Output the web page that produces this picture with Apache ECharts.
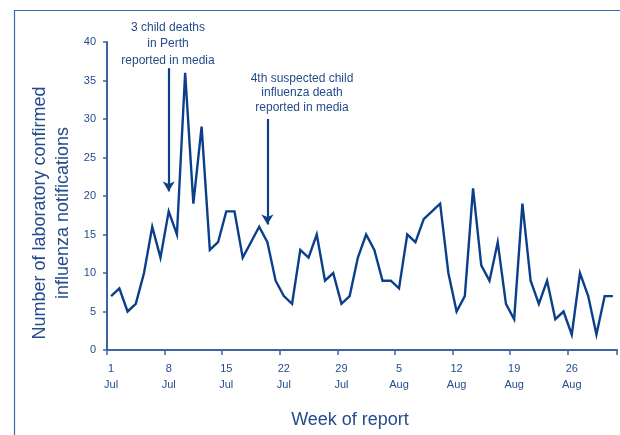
<!DOCTYPE html>
<html><head><meta charset="utf-8">
<script src="https://cdn.jsdelivr.net/npm/echarts@6/dist/echarts.min.js"></script>
<style>html,body{margin:0;padding:0;background:#fff}#c{width:620px;height:435px}</style>
</head><body><div id="c"></div>
<script>
// Daily categories 1 Jul .. 31 Aug
const months = ['Jul', 'Aug'];
const monthDays = [31, 31];
const categories = [];
months.forEach((m, k) => { for (let d = 1; d <= monthDays[k]; d++) categories.push(d + ' ' + m); });

// Number of laboratory confirmed influenza notifications per day
const notifications = [
  7, 8, 5, 6, 10, 16, 12, 18, 15, 36, 19, 29, 13, 14, 18, 18,
  12, 14, 16, 14, 9, 7, 6, 13, 12, 15, 9, 10, 6, 7,
  12, 15, 13, 9, 9, 8, 15, 14, 17, 18, 19, 10, 5, 7, 21, 11,
  9, 14, 6, 4, 19, 9, 6, 9, 4, 5, 2, 10, 7, 2, 7, 7
];

const yTicks = [0, 5, 10, 15, 20, 25, 30, 35, 40];
const annotations = [
  { text: '3 child deaths\nin Perth\nreported in media', at: '8 Jul', from: 36.6, to: 20.6 },
  { text: '4th suspected child\ninfluenza death\nreported in media', at: '20 Jul', from: 30, to: 16.3 }
];

const navy = '#0b3f8a';
const axisCol = '#3b64a0';
const textCol = '#244c8a';
const font = 'Liberation Sans, Arial, sans-serif';

const chart = echarts.init(document.getElementById('c'), null, { renderer: 'canvas' });
chart.setOption({
  animation: false,
  grid: { left: 107, right: 3, top: 42, bottom: 85, containLabel: false },
  xAxis: {
    type: 'category',
    data: categories,
    boundaryGap: true,
    axisLine: { lineStyle: { color: axisCol, width: 2 } },
    axisTick: { show: true, interval: 6, length: 5, lineStyle: { color: axisCol, width: 1.5 } },
    axisLabel: {
      interval: 6, color: textCol, fontFamily: font, fontSize: 11, lineHeight: 16, margin: 11,
      formatter: v => v.replace(' ', '\n')
    },
    splitLine: { show: false }
  },
  yAxis: {
    type: 'value', min: 0, max: 40, interval: 5,
    axisLine: { show: true, lineStyle: { color: axisCol, width: 2 } },
    axisTick: { show: true, inside: false, length: 4, lineStyle: { color: axisCol, width: 1.5 } },
    axisLabel: { color: textCol, fontFamily: font, fontSize: 11, margin: 11,
      formatter: v => yTicks.includes(v) ? String(v) : '' },
    splitLine: { show: false }
  },
  series: [{
    type: 'line',
    data: notifications,
    symbol: 'none',
    lineStyle: { color: navy, width: 2.4, join: 'miter' },
    itemStyle: { color: navy },
    markLine: {
      silent: true,
      symbol: ['none', 'arrow'],
      symbolSize: [9, 10],
      label: { show: false },
      lineStyle: { color: navy, width: 2.2, type: 'solid' },
      data: annotations.map(a => [{ coord: [a.at, a.from] }, { coord: [a.at, a.to] }])
    }
  }],
  graphic: [
    { type: 'polyline', shape: { points: [[14.5, 435], [14.5, 10.5], [620, 10.5]] },
      style: { stroke: '#3b6aa8', lineWidth: 1.2, fill: null } },
    { type: 'text', x: 52, y: 213, rotation: Math.PI / 2,
      style: { text: 'Number of laboratory confirmed\ninfluenza notifications', fill: textCol,
        font: '18px ' + font, align: 'center', verticalAlign: 'middle', lineHeight: 23 } },
    { type: 'text', x: 350, y: 420,
      style: { text: 'Week of report', fill: textCol, font: '18px ' + font, align: 'center', verticalAlign: 'middle' } },
    { type: 'text', x: 168, y: 44,
      style: { text: annotations[0].text, fill: textCol, font: '12px ' + font, align: 'center', verticalAlign: 'middle', lineHeight: 16.5 } },
    { type: 'text', x: 302, y: 93,
      style: { text: annotations[1].text, fill: textCol, font: '12px ' + font, align: 'center', verticalAlign: 'middle', lineHeight: 14.5 } }
  ]
});
</script></body></html>
